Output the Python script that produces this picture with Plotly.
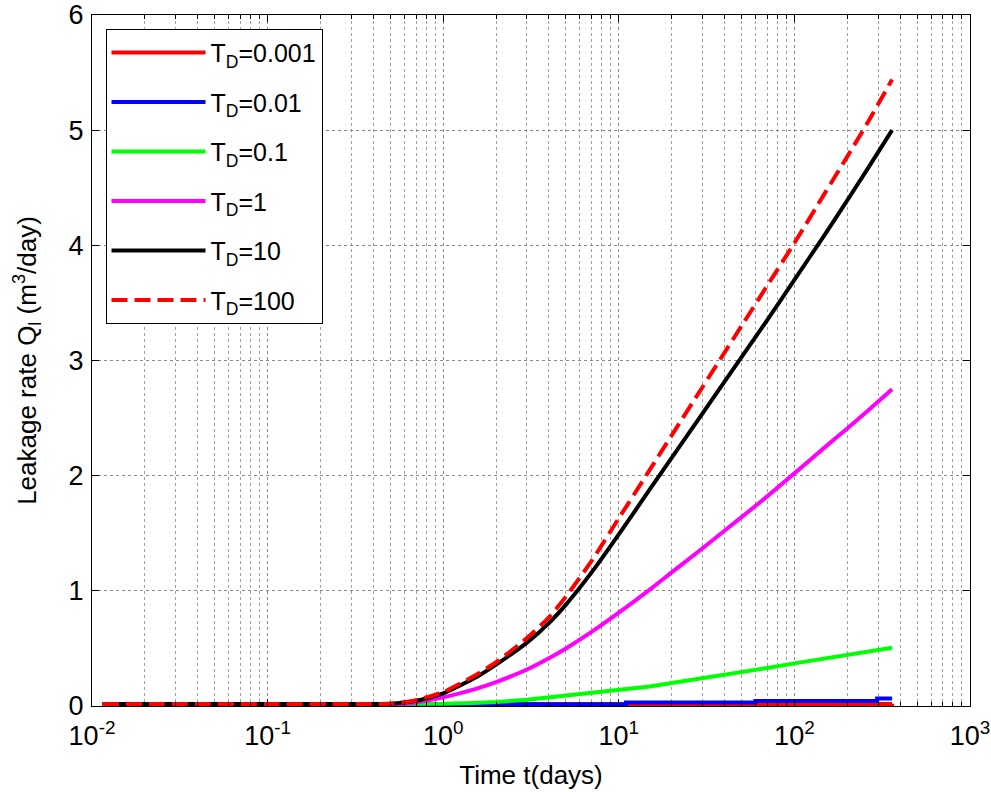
import plotly.graph_objects as go

# ---------------- data ----------------
t_days = [0.0115, 0.1, 0.5, 0.6, 0.7, 0.8, 1, 1.5, 2, 3, 4, 5, 7, 10, 15, 20, 30,
          50, 70, 100, 150, 200, 260, 360]

q_td10 = [0.017, 0.017, 0.02, 0.03, 0.045, 0.065, 0.11, 0.24, 0.36, 0.55, 0.72, 0.88,
          1.16, 1.49, 1.88, 2.155, 2.54, 3.03, 3.35, 3.70, 4.10, 4.39, 4.66, 5.0]
q_td100 = [0.017, 0.017, 0.02, 0.033, 0.05, 0.075, 0.12, 0.26, 0.38, 0.59, 0.77, 0.95,
           1.26, 1.63, 2.05, 2.35, 2.77, 3.30, 3.65, 4.02, 4.46, 4.77, 5.06, 5.44]
q_td1 = [0.017, 0.017, 0.017, 0.02, 0.03, 0.045, 0.075, 0.145, 0.208, 0.317, 0.415, 0.50,
         0.643, 0.81, 1.01, 1.16, 1.37, 1.64, 1.82, 2.02, 2.25, 2.41, 2.56, 2.75]
q_td01 = [0.017, 0.017, 0.017, 0.017, 0.017, 0.018, 0.02, 0.027, 0.035, 0.055, 0.075,
          0.09, 0.11, 0.135, 0.17, 0.2, 0.24, 0.29, 0.33, 0.37, 0.41, 0.44, 0.47, 0.505]

t_td001 = [0.0115, 11, 60, 296, 360]
q_td001 = [0.015, 0.03, 0.043, 0.065, 0.065]

t_td0001 = [0.0115, 100, 360]
q_td0001 = [0.015, 0.017, 0.02]

legend_names = ["T<sub>D</sub>=0.001", "T<sub>D</sub>=0.01", "T<sub>D</sub>=0.1",
                "T<sub>D</sub>=1", "T<sub>D</sub>=10", "T<sub>D</sub>=100"]

x_tickvals = [0.01, 0.1, 1, 10, 100, 1000]
x_ticktext = ["10<sup>-2</sup>", "10<sup>-1</sup>", "10<sup>0</sup>",
              "10<sup>1</sup>", "10<sup>2</sup>", "10<sup>3</sup>"]
x_minor = [m * d for d in [0.01, 0.1, 1, 10, 100] for m in range(2, 10)]
y_tickvals = [0, 1, 2, 3, 4, 5, 6]

FONT = "Liberation Sans, Arial, sans-serif"

fig = go.Figure()
series = [
    (t_td0001, q_td0001, "#ff0000", "solid", "hv"),
    (t_td001, q_td001, "#0000ff", "solid", "hv"),
    (t_days, q_td01, "#00ff00", "solid", "linear"),
    (t_days, q_td1, "#ff00ff", "solid", "spline"),
    (t_days, q_td10, "#000000", "solid", "spline"),
    (t_days, q_td100, "#ff0000", "16px,7px", "spline"),
]
for i, (tx, qy, col, dash, shape) in enumerate(series):
    line = dict(color=col, width=4, dash=dash, shape=shape)
    if shape == "spline":
        line["smoothing"] = 0.6
    fig.add_trace(go.Scatter(
        x=tx, y=qy, mode="lines", name=legend_names[i], legendgroup=f"g{i}",
        line=line,
    ))

axis_common = dict(
    showline=True, linecolor="black", linewidth=1, mirror="allticks",
    ticks="inside", tickcolor="black", ticklen=7,
    showgrid=True, gridcolor="#8a8a8a", griddash="dot", gridwidth=1,
    zeroline=False, automargin=False,
    tickfont=dict(family=FONT, size=27, color="black"),
)

fig.update_xaxes(
    type="log", range=[-2, 3], tickmode="array", tickvals=x_tickvals, ticktext=x_ticktext,
    minor=dict(tickmode="array", tickvals=x_minor, ticks="inside", ticklen=4,
               tickcolor="black", showgrid=True, gridcolor="#a0a0a0", griddash="dot",
               gridwidth=1),
    ticklabelstandoff=6,
    title=dict(text="Time t(days)", font=dict(family=FONT, size=26, color="black"),
               standoff=15),
    **axis_common,
)
fig.update_yaxes(
    range=[0, 6], tickmode="array", tickvals=y_tickvals,
    ticklabelstandoff=2,
    title=dict(text="Leakage rate Q<sub>l</sub> (m<sup>3</sup>/day)",
               font=dict(family=FONT, size=26, color="black"), standoff=24),
    **axis_common,
)

fig.update_layout(
    width=991, height=792,
    margin=dict(l=92, r=21, t=15, b=86),
    paper_bgcolor="white", plot_bgcolor="white",
    font=dict(family=FONT, color="black"),
    showlegend=True,
    legend=dict(
        x=0.0154, y=0.98, xanchor="left", yanchor="top",
        bgcolor="white", bordercolor="black", borderwidth=1,
        font=dict(family=FONT, size=25, color="black"),
        traceorder="grouped", tracegroupgap=14, itemwidth=94,
    ),
)

fig.write_html("out.html")
